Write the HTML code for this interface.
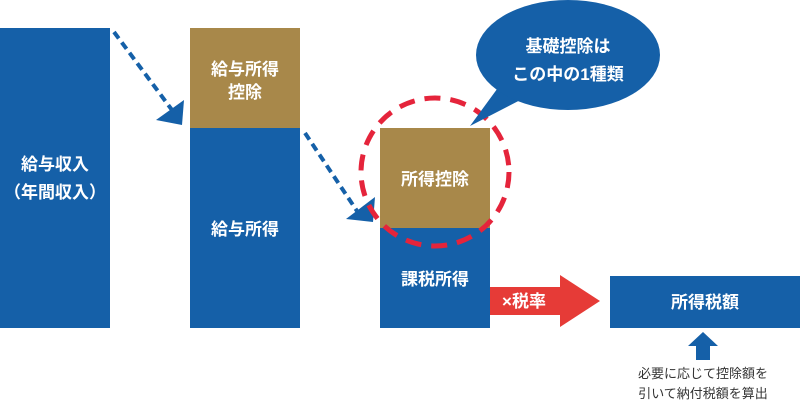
<!DOCTYPE html>
<html><head><meta charset="utf-8"><style>
html,body{margin:0;padding:0;background:#fff;}
body{width:800px;height:400px;overflow:hidden;}
text{font-family:"Liberation Sans","Noto Sans CJK JP",sans-serif;}
.w{font-weight:bold;}
</style></head><body>
<svg width="800" height="400" viewBox="0 0 800 400" xmlns="http://www.w3.org/2000/svg">
<rect x="0" y="28" width="110" height="300" fill="#1560a8"/>
<text class="w" x="55" y="170" fill="#fff" font-size="17" text-anchor="middle">給与収入</text>
<text class="w" x="55" y="198" fill="#fff" font-size="17" text-anchor="middle">（年間収入）</text>
<rect x="190" y="28" width="110" height="100" fill="#a8884a"/>
<rect x="190" y="128" width="110" height="200" fill="#1560a8"/>
<text class="w" x="245" y="75" fill="#fff" font-size="17" text-anchor="middle">給与所得</text>
<text class="w" x="245" y="98" fill="#fff" font-size="17" text-anchor="middle">控除</text>
<text class="w" x="245" y="235" fill="#fff" font-size="17" text-anchor="middle">給与所得</text>
<rect x="380" y="128" width="110" height="100" fill="#a8884a"/>
<rect x="380" y="228" width="110" height="100" fill="#1560a8"/>
<text class="w" x="435" y="185" fill="#fff" font-size="17" text-anchor="middle">所得控除</text>
<text class="w" x="435" y="285" fill="#fff" font-size="17" text-anchor="middle">課税所得</text>
<line x1="114" y1="32" x2="172" y2="110" stroke="#1560a8" stroke-width="4" stroke-dasharray="8,5"/>
<polygon points="156,120 184,100 182,125" fill="#1560a8"/>
<line x1="305" y1="133" x2="357" y2="211" stroke="#1560a8" stroke-width="4" stroke-dasharray="8,5"/>
<polygon points="346,219 375,197 373,222" fill="#1560a8"/>
<circle cx="435" cy="172" r="74" fill="none" stroke="#e5243b" stroke-width="5" stroke-dasharray="16,10"/>
<polygon points="470,126 500,85 530,95" fill="#1560a8"/>
<ellipse cx="568" cy="55" rx="92" ry="55" fill="#1560a8"/>
<text class="w" x="568" y="52" fill="#fff" font-size="17" text-anchor="middle">基礎控除は</text>
<text class="w" x="568" y="80" fill="#fff" font-size="17" text-anchor="middle">この中の1種類</text>
<polygon points="490,287 560,287 560,275 600,301 560,327 560,315 490,315" fill="#e63b37"/>
<text class="w" x="524" y="307" fill="#fff" font-size="17" text-anchor="middle">×税率</text>
<rect x="610" y="276" width="190" height="52" fill="#1560a8"/>
<text class="w" x="705" y="308" fill="#fff" font-size="17" text-anchor="middle">所得税額</text>
<polygon points="703,332 718,346 710,346 710,360 696,360 696,346 688,346" fill="#1560a8"/>
<text x="703" y="378" fill="#333" font-size="13" text-anchor="middle">必要に応じて控除額を</text>
<text x="703" y="398" fill="#333" font-size="13" text-anchor="middle">引いて納付税額を算出</text>
</svg>
</body></html>
